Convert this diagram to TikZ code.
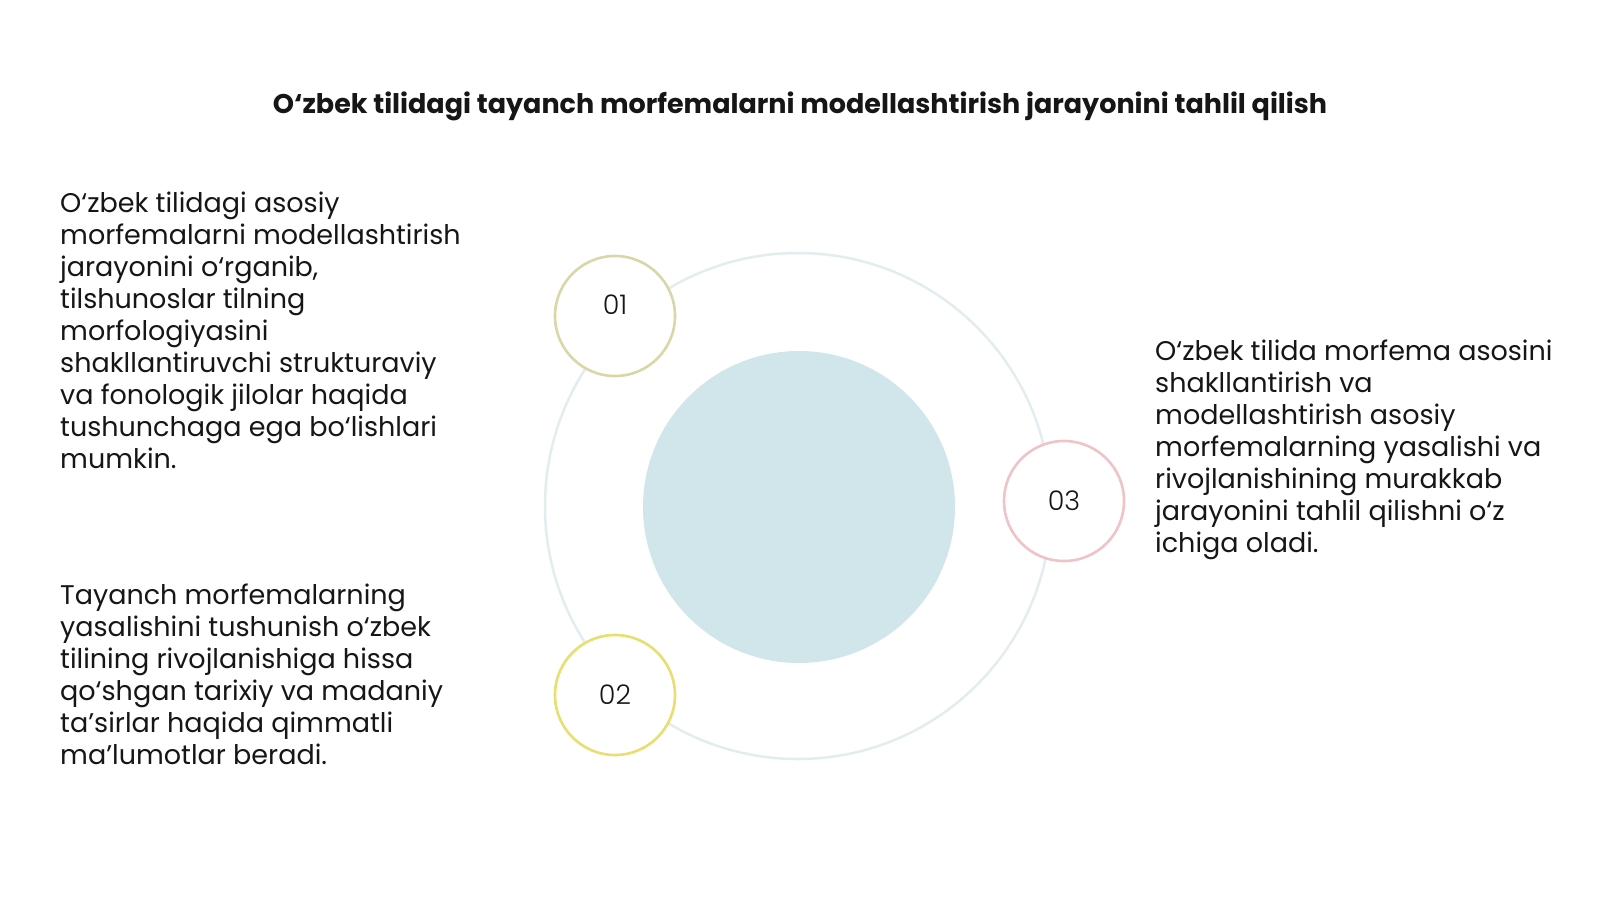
\documentclass[tikz,border=0pt]{standalone}
\usepackage{fontspec}
\setmainfont{Poppins}
\newfontfamily\numfont{Poppins Light}
\definecolor{ringc}{HTML}{E3EDEF}
\definecolor{corec}{HTML}{D0E6EB}
\definecolor{c1}{HTML}{D9D7A8}
\definecolor{c2}{HTML}{E9DE6E}
\definecolor{c3}{HTML}{EFC3C8}
\definecolor{txt}{HTML}{161616}
\begin{document}
\begin{tikzpicture}[x=1pt,y=-1pt,
  para/.style={anchor=north west,inner sep=0pt,align=left,text=txt,
    font=\fontsize{27}{32}\selectfont},
  badge/.style={circle,draw=#1,line width=2.6pt,fill=white,minimum size=120pt,inner sep=0pt},
  numlbl/.style={text=txt,font=\numfont\fontsize{27}{30}\selectfont,inner sep=0pt}]
\useasboundingbox[fill=white] (0,0) rectangle (1600,900);
\node[font=\bfseries\fontsize{27}{32}\selectfont,text=txt] (title) at (800,106)
  {O‘zbek tilidagi tayanch morfemalarni modellashtirish jarayonini tahlil qilish};
\node[circle,draw=ringc,line width=2.5pt,minimum size=506pt,inner sep=0pt] (ring) at (798,506) {};
\node[circle,fill=corec,minimum size=312pt,inner sep=0pt] (core) at (799,507) {};
\node[badge=c1] (b1) at (615,316) {};
\node[badge=c2] (b2) at (615,695) {};
\node[badge=c3] (b3) at (1064,501) {};
\node[numlbl] (n1) at ([yshift=11pt]b1.center) {01};
\node[numlbl] (n2) at (b2.center) {02};
\node[numlbl] (n3) at (b3.center) {03};
\node[para] (t1) at (60,192) {O‘zbek tilidagi asosiy\\morfemalarni modellashtirish\\jarayonini o‘rganib,\\tilshunoslar tilning\\morfologiyasini\\shakllantiruvchi strukturaviy\\va fonologik jilolar haqida\\tushunchaga ega bo‘lishlari\\mumkin.};
\node[para] (t2) at (60,584) {Tayanch morfemalarning\\yasalishini tushunish o‘zbek\\tilining rivojlanishiga hissa\\qo‘shgan tarixiy va madaniy\\ta’sirlar haqida qimmatli\\ma’lumotlar beradi.};
\node[para] (t3) at (1155,340) {O‘zbek tilida morfema asosini\\shakllantirish va\\modellashtirish asosiy\\morfemalarning yasalishi va\\rivojlanishining murakkab\\jarayonini tahlil qilishni o‘z\\ichiga oladi.};
\end{tikzpicture}
\end{document}
